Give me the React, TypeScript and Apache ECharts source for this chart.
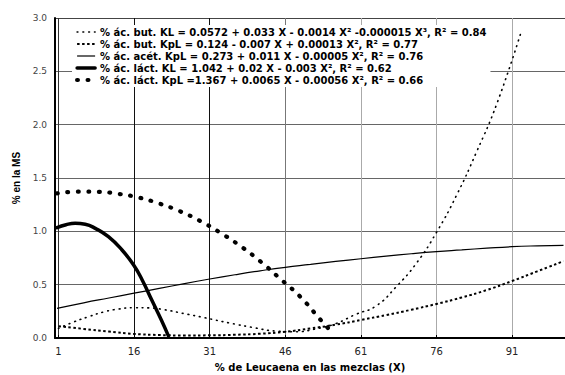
import React, { useEffect, useRef } from "react";
import * as echarts from "echarts";

// Tick labels
const xTickValues = [1, 16, 31, 46, 61, 76, 91];
const yTickValues = [0, 0.5, 1, 1.5, 2, 2.5, 3];

// Series names (legend)
const nameButKL = "% ác. but. KL = 0.0572 + 0.033 X - 0.0014 X² -0.000015 X³, R² = 0.84";
const nameButKpL = "% ác. but. KpL = 0.124 - 0.007 X + 0.00013 X², R² = 0.77";
const nameAcetKpL = "% ác. acét. KpL = 0.273 + 0.011 X - 0.00005 X², R² = 0.76";
const nameLactKL = "% ác. láct. KL = 1.042 + 0.02 X - 0.003 X², R² = 0.62";
const nameLactKpL = "% ác. láct. KpL =1.367 + 0.0065 X - 0.00056 X², R² = 0.66";

// Values
const butKL_X = [1, 4, 7, 10, 13, 16, 19, 22, 26, 30, 35, 40, 44, 48, 52, 56, 60, 64, 68, 72, 76, 80, 84, 88, 92.8];
const butKL_Y = [0.09, 0.15, 0.2, 0.245, 0.272, 0.284, 0.282, 0.265, 0.228, 0.19, 0.14, 0.095, 0.065, 0.058, 0.085, 0.135, 0.222, 0.3, 0.48, 0.7, 0.99, 1.34, 1.75, 2.2, 2.87];

const butKpL_X = [1, 6, 11, 16, 21, 26, 31, 36, 41, 46, 51, 56, 61, 66, 71, 76, 81, 86, 91, 96, 101.2];
const butKpL_Y = [0.11, 0.085, 0.06, 0.038, 0.028, 0.024, 0.025, 0.03, 0.04, 0.058, 0.09, 0.125, 0.169, 0.215, 0.265, 0.319, 0.38, 0.45, 0.534, 0.625, 0.72];

const acetKpL_X = [0.7, 6, 11, 16, 21, 26, 31, 36, 41, 46, 51, 56, 61, 66, 71, 76, 81, 86, 91, 96, 101.2];
const acetKpL_Y = [0.278, 0.33, 0.375, 0.42, 0.465, 0.51, 0.553, 0.593, 0.63, 0.663, 0.69, 0.718, 0.743, 0.767, 0.79, 0.81, 0.826, 0.842, 0.856, 0.864, 0.869];

const lactKL_X = [0.7, 2.5, 4.3, 6.3, 8.3, 10.9, 13.6, 15.9, 17.6, 19.5, 21.4, 22.8];
const lactKL_Y = [1.034, 1.062, 1.075, 1.066, 1.028, 0.95, 0.825, 0.684, 0.544, 0.356, 0.169, 0.02];

const lactKpL_X = [0.7, 5, 9, 13, 17, 21, 25, 29, 33, 37, 41, 45, 49, 53, 55.3];
const lactKpL_Y = [1.356, 1.372, 1.37, 1.35, 1.316, 1.26, 1.19, 1.1, 0.99, 0.865, 0.72, 0.555, 0.385, 0.17, 0.05];

const zip = (xs: number[], ys: number[]) => xs.map((x, i) => [x, ys[i]]);

export default function App() {
  const ref = useRef<HTMLDivElement>(null);
  useEffect(() => {
    const chart = echarts.init(ref.current!, null, { renderer: "svg" });
    const mkLine = (name: string, data: number[][], width: number, type: any, cap: string) => ({
      name,
      type: "line",
      data,
      smooth: true,
      symbol: "none",
      showSymbol: false,
      lineStyle: { color: "#000", width, type, cap },
      itemStyle: { color: "#000" },
      emphasis: { disabled: true },
    });
    chart.setOption({
      animation: false,
      backgroundColor: "#fff",
      grid: { left: 55, right: 0, top: 18, bottom: 37, outerBoundsMode: "none", containLabel: false },
      legend: {
        orient: "vertical",
        left: 72,
        top: 25,
        padding: [2, 4, 2, 3],
        itemWidth: 18,
        itemHeight: 10,
        itemGap: 2,
        backgroundColor: "#fff",
        selectedMode: false,
        itemStyle: { opacity: 0 },
        lineStyle: { width: "inherit" },
        textStyle: { fontFamily: "DejaVu Sans", fontWeight: "bold", fontSize: 10, color: "#000" },
        data: [nameButKL, nameButKpL, nameAcetKpL, nameLactKL, nameLactKpL],
      },
      xAxis: {
        type: "value",
        min: 0.3,
        max: 101.5,
        name: "% de Leucaena en las mezclas (X)",
        nameLocation: "middle",
        nameGap: 24,
        nameTextStyle: { fontFamily: "DejaVu Sans", fontWeight: "bold", fontSize: 10, color: "#000" },
        axisLine: { show: true, onZero: false, lineStyle: { color: "#000", width: 2 } },
        axisTick: { show: true, inside: true, length: 3, customValues: xTickValues, lineStyle: { color: "#000" } },
        axisLabel: {
          customValues: xTickValues,
          fontFamily: "DejaVu Sans",
          fontSize: 10,
          color: "#222",
          margin: 8,
        },
        splitLine: {
          show: true,
          lineStyle: { color: ["#333", "#111", "#111", "#777", "#aaa", "#aaa", "#aaa"], width: 1 },
        },
      },
      yAxis: {
        type: "value",
        min: 0,
        max: 3,
        interval: 0.5,
        name: "% en la MS",
        nameLocation: "middle",
        nameGap: 34,
        nameTextStyle: { fontFamily: "Liberation Sans", fontWeight: "bold", fontSize: 10, color: "#000" },
        axisLine: { show: true, lineStyle: { color: "#000", width: 2 } },
        axisTick: { show: false },
        axisLabel: {
          fontFamily: "DejaVu Sans",
          fontSize: 9,
          color: "#444",
          margin: 8,
          formatter: (v: number) => (yTickValues.indexOf(v) >= 0 ? v.toFixed(1) : ""),
        },
        splitLine: {
          show: true,
          lineStyle: { color: ["#000", "#666", "#666", "#666", "#666", "#666", "#444"], width: 1 },
        },
      },
      series: [
        mkLine(nameButKL, zip(butKL_X, butKL_Y), 1.6, [0.8, 5], "round"),
        mkLine(nameButKpL, zip(butKpL_X, butKpL_Y), 2, [2.5, 2.5], "butt"),
        mkLine(nameAcetKpL, zip(acetKpL_X, acetKpL_Y), 1.2, "solid", "butt"),
        mkLine(nameLactKL, zip(lactKL_X, lactKL_Y), 3.5, "solid", "round"),
        mkLine(nameLactKpL, zip(lactKpL_X, lactKpL_Y), 4.2, [0.8, 9.7], "round"),
      ],
    });
    return () => chart.dispose();
  }, []);
  return (
    <div
      ref={ref}
      style={{ position: "fixed", left: 0, top: 0, width: 565, height: 375, background: "#fff" }}
    />
  );
}
